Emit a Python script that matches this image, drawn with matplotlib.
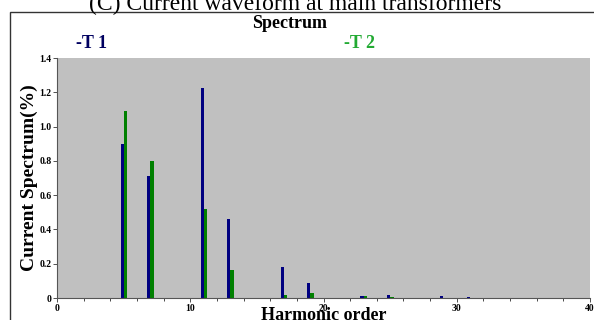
import matplotlib
matplotlib.use("Agg")
import matplotlib.pyplot as plt
from matplotlib.patches import Rectangle
import numpy as np

harmonics = [5, 7, 11, 13, 17, 19, 23, 25, 29, 31]
t1_values = [0.90, 0.71, 1.225, 0.46, 0.18, 0.09, 0.012, 0.02, 0.01, 0.005]
t2_values = [1.09, 0.80, 0.52, 0.165, 0.02, 0.027, 0.012, 0.005, 0.0, 0.0]
x_ticks = [0, 10, 20, 30, 40]
y_ticks = [0, 0.2, 0.4, 0.6, 0.8, 1.0, 1.2, 1.4]
y_tick_labels = ["0", "0.2", "0.4", "0.6", "0.8", "1.0", "1.2", "1.4"]

plt.rcParams['font.family'] = ['Liberation Serif', 'DejaVu Serif']

fig = plt.figure(figsize=(5.94, 3.2), dpi=100)
W, H = 594, 320
ax = fig.add_axes([57 / W, 1 - 298 / H, (590 - 57) / W, (298 - 58) / H])
ax.set_facecolor('#c0c0c0')

h = np.array(harmonics)
ax.bar(h - 0.11, t1_values, width=0.23, color='#000080', align='center')
ax.bar(h + 0.13, t2_values, width=0.25, color='#008000', align='center')

ax.set_xlim(0, 40)
ax.set_ylim(0, 1.4)
ax.set_xticks(x_ticks)
ax.set_xticks(np.arange(0, 41, 2), minor=True)
ax.set_yticks(y_ticks)
ax.set_yticklabels(y_tick_labels)
ax.tick_params(axis='both', labelsize=7, length=3, width=0.6, pad=1, colors='#333333', labelcolor='black')
ax.tick_params(axis='both', which='minor', length=2, width=0.5)
for lab in ax.get_xticklabels() + ax.get_yticklabels():
    lab.set_fontweight('bold')
for s in ['top', 'right']:
    ax.spines[s].set_visible(False)
for s in ['left', 'bottom']:
    ax.spines[s].set_color('#555555')
    ax.spines[s].set_linewidth(0.8)

ax.set_xlabel('Harmonic order', fontsize=13, fontweight='bold', labelpad=-4)
ax.set_ylabel('Current Spectrum(%)', fontsize=14, fontweight='bold', labelpad=1)

# outer frame
fig.patches.append(Rectangle((10 / W, -0.1), 1.0, 1 - 12 / H + 0.1, transform=fig.transFigure,
                             fill=False, edgecolor='#333333', linewidth=1.0))

fig.text(295 / W, 1 - 10 / H, '(C) Current waveform at main transformers', ha='center', va='baseline',
         fontsize=17)
fig.text(290 / W, 1 - 23 / H, 'Spectrum', ha='center', va='center', fontsize=13, fontweight='bold')
fig.text(92 / W, 1 - 43 / H, '-T 1', ha='center', va='center', fontsize=13, fontweight='bold', color='#000060')
fig.text(360 / W, 1 - 43 / H, '-T 2', ha='center', va='center', fontsize=13, fontweight='bold', color='#22aa33')

fig.savefig('out.png', dpi=100)
